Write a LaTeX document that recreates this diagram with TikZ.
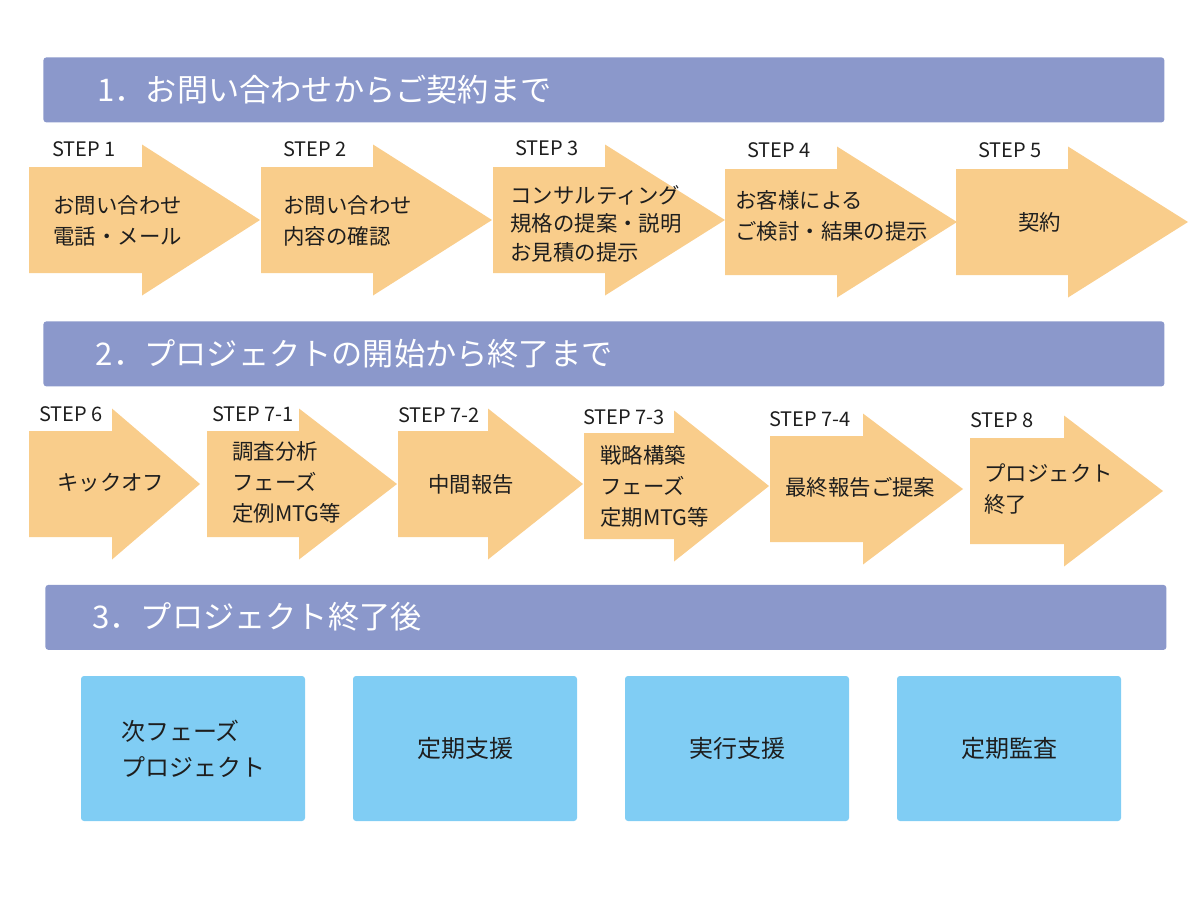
\documentclass[tikz,border=0pt]{standalone}
\usepackage{fontspec}
\setmainfont{Noto Sans CJK JP}

\definecolor{barblue}{RGB}{139,152,203}
\definecolor{arrowfill}{RGB}{249,205,139}
\definecolor{cardblue}{RGB}{128,205,244}
\definecolor{inkdark}{RGB}{30,30,30}

% a step arrow: left x, shaft top y, head start x, tip x (shaft 106 high, head 151)
\newcommand{\steparrow}[4]{%
  \fill[arrowbody] (#1,#2) -- (#3,#2) -- (#3,#2-22.5) -- (#4,#2+53)
    -- (#3,#2+128.5) -- (#3,#2+106) -- (#1,#2+106) -- cycle;}

\begin{document}
\begin{tikzpicture}[
  x=0.5pt, y=-0.5pt,
  bar/.style       = {fill=barblue, rounded corners=1.5pt, inner sep=0pt,
                      anchor=north west, minimum width=560.5pt, minimum height=32.5pt},
  title/.style     = {anchor=west, inner sep=0pt, text=white,
                      font=\fontsize{15.6}{18}\selectfont},
  arrowbody/.style = {fill=arrowfill},
  steplbl/.style   = {anchor=west, inner sep=0pt, text=inkdark,
                      font=\fontsize{10}{12}\selectfont},
  txt/.style       = {anchor=west, inner sep=0pt, align=left, text=inkdark,
                      font=\fontsize{10.7}{15.5}\selectfont},
  tight/.style     = {font=\fontsize{10.7}{14.25}\selectfont},
                       % three lines squeezed into the shaft of step 3
  card/.style      = {fill=cardblue, rounded corners=1.5pt, inner sep=0pt,
                      minimum width=112pt, minimum height=72.5pt, align=left,
                      text=inkdark, font=\fontsize{12}{18}\selectfont},
]
  \useasboundingbox (0,0) rectangle (1200,900);

  % section 1
  \node[bar] (sec1) at (43,57) {};
  \node[title] (sec1t) at (97,89.5) {1．お問い合わせからご契約まで};

  \steparrow{29}{167}{142}{260}
  \steparrow{261}{167}{373}{492}
  \steparrow{493}{167}{605}{725}
  \steparrow{725}{169}{837}{957}
  \steparrow{956}{169}{1068}{1188}

  \node[steplbl] (s1) at (52,149)  {STEP 1};
  \node[steplbl] (s2) at (283,149) {STEP 2};
  \node[steplbl] (s3) at (515,148) {STEP 3};
  \node[steplbl] (s4) at (747,150) {STEP 4};
  \node[steplbl] (s5) at (978,150) {STEP 5};

  \node[txt] (t1) at (53,221)  {お問い合わせ\\電話・メール};
  \node[txt] (t2) at (283,221) {お問い合わせ\\内容の確認};
  \node[txt, tight] (t3) at (510,223.5) {コンサルティング\\規格の提案・説明\\お見積の提示};
  \node[txt] (t4) at (735,216) {お客様による\\ご検討・結果の提示};
  \node[txt] (t5) at (1018,222) {契約};

  % section 2
  \node[bar] (sec2) at (43,321) {};
  \node[title] (sec2t) at (95.5,353.5) {2．プロジェクトの開始から終了まで};

  \steparrow{29}{431}{112}{200}
  \steparrow{207}{431}{299}{397}
  \steparrow{398}{431}{488}{583}
  \steparrow{584}{433}{674}{769}
  \steparrow{770}{436}{863}{963}
  \steparrow{970}{438}{1064}{1163}

  \node[steplbl] (s6)  at (39,414.5) {STEP 6};
  \node[steplbl] (s7a) at (212,414.5) {STEP 7-1};
  \node[steplbl] (s7b) at (398,415)  {STEP 7-2};
  \node[steplbl] (s7c) at (583,417)  {STEP 7-3};
  \node[steplbl] (s7d) at (769,419)  {STEP 7-4};
  \node[steplbl] (s8)  at (970,420)  {STEP 8};

  \node[txt] (t6)  at (57,483)  {キックオフ};
  \node[txt] (t7a) at (232,482) {調査分析\\フェーズ\\定例MTG等};
  \node[txt] (t7b) at (428,484) {中間報告};
  \node[txt] (t7c) at (600,486) {戦略構築\\フェーズ\\定期MTG等};
  \node[txt] (t7d) at (785,487) {最終報告ご提案};
  \node[txt] (t8)  at (984,489) {プロジェクト\\終了};

  % section 3: follow-up services
  \node[bar] (sec3) at (45,584.5) {};
  \node[title] (sec3t) at (92,617) {3．プロジェクト終了後};

  \node[card] (c1) at (193,748.5)  {次フェーズ\\プロジェクト};
  \node[card] (c2) at (465,748.5)  {定期支援};
  \node[card] (c3) at (737,748.5)  {実行支援};
  \node[card] (c4) at (1009,748.5) {定期監査};
\end{tikzpicture}
\end{document}
